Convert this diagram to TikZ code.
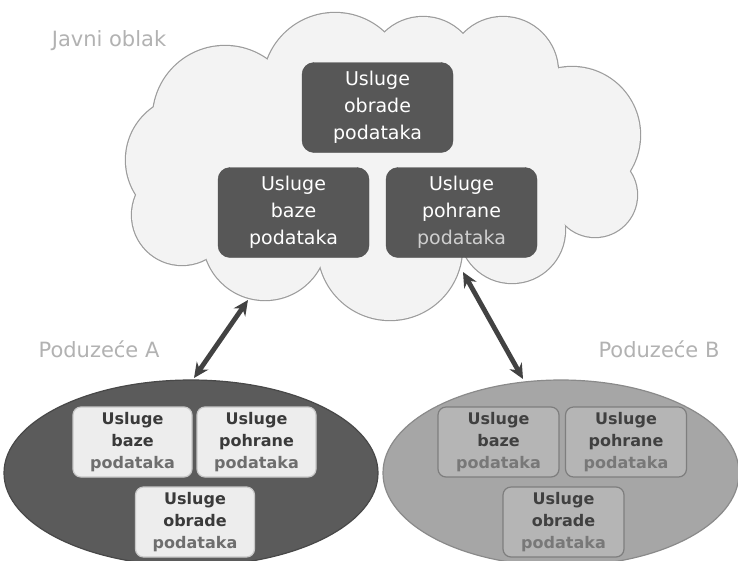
\documentclass[tikz,border=0pt]{standalone}
\usepackage{fontspec}
\setmainfont{DejaVu Sans}
\usetikzlibrary{shapes.geometric,arrows.meta}
\definecolor{cloudfill}{HTML}{F3F3F3}
\definecolor{cloudline}{HTML}{9C9C9C}
\definecolor{darkbox}{HTML}{575757}
\definecolor{labelgray}{HTML}{B2B2B2}
\definecolor{ellA}{HTML}{5B5B5B}
\definecolor{ellAline}{HTML}{484848}
\definecolor{ellB}{HTML}{A6A6A6}
\definecolor{ellBline}{HTML}{8A8A8A}
\definecolor{boxA}{HTML}{EDEDED}
\definecolor{boxAline}{HTML}{C8C8C8}
\definecolor{boxB}{HTML}{B5B5B5}
\definecolor{boxBline}{HTML}{7E7E7E}
\definecolor{arrowc}{HTML}{424242}
\definecolor{paleword}{HTML}{CFCFCF}
\definecolor{txtA}{HTML}{3A3A3A}
\definecolor{subA}{HTML}{6E6E6E}
\definecolor{txtB}{HTML}{404040}
\definecolor{subB}{HTML}{787878}
\tikzset{
  cloudsvc/.style={draw=darkbox!90!black, fill=darkbox, rounded corners=12pt, text=white,
    align=center, minimum width=151pt, minimum height=90pt, inner sep=0pt,
    font=\fontsize{19}{27}\selectfont},
  svcA/.style={draw=boxAline, line width=1.2pt, fill=boxA, rounded corners=8pt, text=txtA,
    align=center, minimum width=119pt, minimum height=70pt, inner sep=0pt,
    font=\bfseries\fontsize{16}{22}\selectfont},
  svcB/.style={draw=boxBline, line width=1.2pt, fill=boxB, rounded corners=8pt, text=txtB,
    align=center, minimum width=121pt, minimum height=70pt, inner sep=0pt,
    font=\bfseries\fontsize{16}{22}\selectfont},
  grouplabel/.style={text=labelgray, font=\fontsize{21}{25}\selectfont, inner sep=0pt},
  link/.style={arrowc, line width=4.8pt,
    {Stealth[length=15pt,width=14pt]}-{Stealth[length=15pt,width=14pt]}}
}
\begin{document}
\begin{tikzpicture}[x=1pt,y=-1pt]
\useasboundingbox (0,0) rectangle (738,560);
\clip (0,0) rectangle (738,560);
\fill[white] (0,0) rectangle (738,560);

% cloud: union of lobes
\def\lobes{225/118/72, 335/85/72, 423/72/55, 503/72/55, 572/135/68, 595/195/42,
  512/230/53, 390/248/72, 265/238/62, 182/215/50, 190/160/64}
\foreach \cx/\cy/\r in \lobes {\draw[cloudline, line width=2.4pt] (\cx,\cy) circle[radius=\r pt];}
\foreach \cx/\cy/\r in \lobes {\fill[cloudfill] (\cx,\cy) circle[radius=\r pt];}
\fill[cloudfill] (225,118) -- (335,85) -- (423,72) -- (503,72) -- (572,135) -- (595,195)
  -- (512,230) -- (390,248) -- (265,238) -- (182,215) -- (190,160) -- cycle;

\node[grouplabel] (lcloud) at (109,41) {Javni oblak};
\node[grouplabel] (lA) at (99,349) {Poduzeće A};
\node[grouplabel] (lB) at (659,349) {Poduzeće B};

\node[cloudsvc] (cObr) at (377.5,107.5) {Usluge\\obrade\\podataka};
\node[cloudsvc] (cBaz) at (293.5,212.5) {Usluge\\baze\\podataka};
\node[cloudsvc] (cPoh) at (461.5,212.5) {Usluge\\pohrane\\{\color{paleword}podataka}};

% companies
\node[ellipse, draw=ellAline, line width=1.2pt, fill=ellA, minimum width=374pt, minimum height=186pt] (eA) at (191,473) {};
\node[ellipse, draw=ellBline, line width=1.2pt, fill=ellB, minimum width=356pt, minimum height=186pt] (eB) at (561,473) {};

\node[svcA] (aBaz) at (132.5,442) {Usluge\\baze\\{\color{subA}podataka}};
\node[svcA] (aPoh) at (256.5,442) {Usluge\\pohrane\\{\color{subA}podataka}};
\node[svcA] (aObr) at (195,522) {Usluge\\obrade\\{\color{subA}podataka}};

\node[svcB] (bBaz) at (498.5,442) {Usluge\\baze\\{\color{subB}podataka}};
\node[svcB] (bPoh) at (626,442) {Usluge\\pohrane\\{\color{subB}podataka}};
\node[svcB] (bObr) at (563.5,522) {Usluge\\obrade\\{\color{subB}podataka}};

% links
\coordinate (cloudA) at (248,300);
\coordinate (cloudB) at (463,272);
\coordinate (compA) at (194,378);
\coordinate (compB) at (523,379);
\draw[link] (cloudA) -- (compA);
\draw[link] (cloudB) -- (compB);
\end{tikzpicture}
\end{document}
